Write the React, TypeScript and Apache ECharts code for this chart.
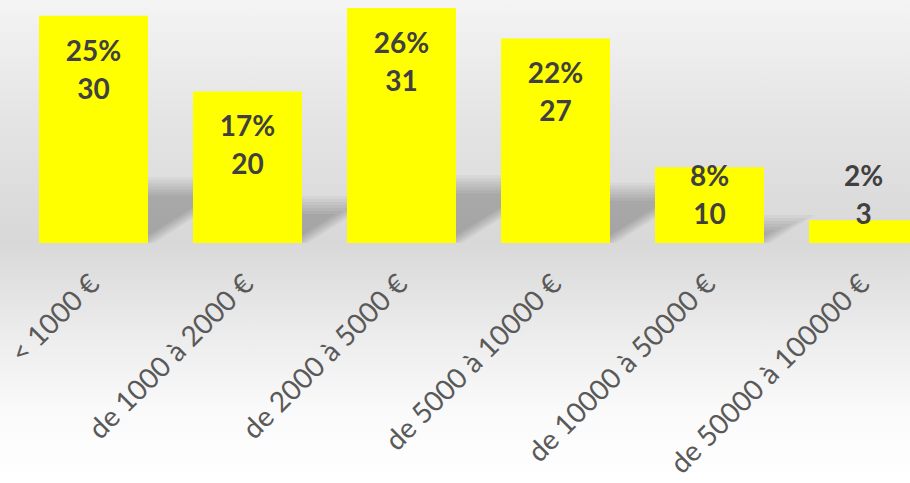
import React, { useEffect, useRef } from "react";
import * as echarts from "echarts";

const categories = [
  "< 1000 €",
  "de 1000 à 2000 €",
  "de 2000 à 5000 €",
  "de 5000 à 10000 €",
  "de 10000 à 50000 €",
  "de 50000 à 100000 €",
];
const counts = [30, 20, 31, 27, 10, 3];

const Y_MAX = 32;
const GRID_TOP = 0.5;
const GRID_BOTTOM_Y = 243;
const CHART_W = 960;
const CHART_H = 483;
const BAR_W = 109;

export default function App() {
  const ref = useRef<HTMLDivElement>(null);
  useEffect(() => {
    const chart = echarts.init(ref.current!, null, { renderer: "svg" });
    const total = counts.reduce((a, b) => a + b, 0);
    const plotH = GRID_BOTTOM_Y - GRID_TOP;
    const pxPerUnit = plotH / Y_MAX;
    const barData = counts.map((v) => {
      const h = v * pxPerUnit;
      return {
        value: v,
        label: { position: ["50%", Math.min(15, h - 87)] },
      };
    });
    const shadowData = counts.map((v, i) => [i, v]);

    chart.setOption({
      animation: false,
      backgroundColor: "transparent",
      grid: {
        left: 16.5,
        right: CHART_W - 940.5,
        top: GRID_TOP,
        bottom: CHART_H - GRID_BOTTOM_Y,
        containLabel: false,
        outerBoundsMode: "none",
      },
      xAxis: {
        type: "category",
        data: categories,
        axisLine: { show: false },
        axisTick: { show: false },
        axisLabel: {
          interval: 0,
          rotate: 45,
          margin: 35,
          fontFamily: "Lato",
          fontSize: 28,
          color: "#595959",
        },
      },
      yAxis: {
        type: "value",
        min: 0,
        max: Y_MAX,
        show: false,
        splitLine: { show: false },
      },
      series: [
        {
          type: "custom",
          z: 1,
          silent: true,
          clip: false,
          data: shadowData,
          renderItem: (params: any, api: any) => {
            const idx = api.value(0);
            const v = api.value(1);
            const top = api.coord([idx, v]);
            const base = api.coord([idx, 0]);
            const x0 = base[0] - BAR_W / 2;
            const x1 = base[0] + BAR_W / 2;
            const y = base[1];
            const h = base[1] - top[1];
            const sh = h * 0.25;
            const k = 1.6;
            const children: any[] = [];
            const N = 7;
            for (let i = 0; i < N; i++) {
              const s = sh + 9 - 3 * i;
              if (s <= 1) break;
              const r = 6 - 3 * i;
              children.push({
                type: "polygon",
                shape: {
                  points: [
                    [x0, y],
                    [x1 + r, y],
                    [x1 + r + k * s, y - s],
                    [x0 + k * s, y - s],
                  ],
                },
                style: { fill: "rgba(0,0,0,0.036)" },
              });
            }
            return { type: "group", children };
          },
        },
        {
          type: "bar",
          z: 2,
          barWidth: BAR_W,
          data: barData,
          itemStyle: { color: "#ffff00" },
          label: {
            show: true,
            align: "center",
            verticalAlign: "top",
            fontFamily: "Lato",
            fontSize: 28,
            fontWeight: "bold",
            lineHeight: 38,
            color: "#404040",
            formatter: (p: any) =>
              `${Math.round((p.value / total) * 100)}%\n${p.value}`,
          },
        },
      ],
    });
    return () => chart.dispose();
  }, []);

  return (
    <div
      style={{
        position: "fixed",
        left: 0,
        top: 0,
        width: 910,
        height: 483,
        overflow: "hidden",
        background:
          "linear-gradient(to bottom, #f4f4f4 0%, #e4e4e4 25%, #d8d8d8 50%, #ebebeb 68%, #fafafa 85%, #ffffff 100%)",
      }}
    >
      <div ref={ref} style={{ width: CHART_W, height: CHART_H }} />
    </div>
  );
}
